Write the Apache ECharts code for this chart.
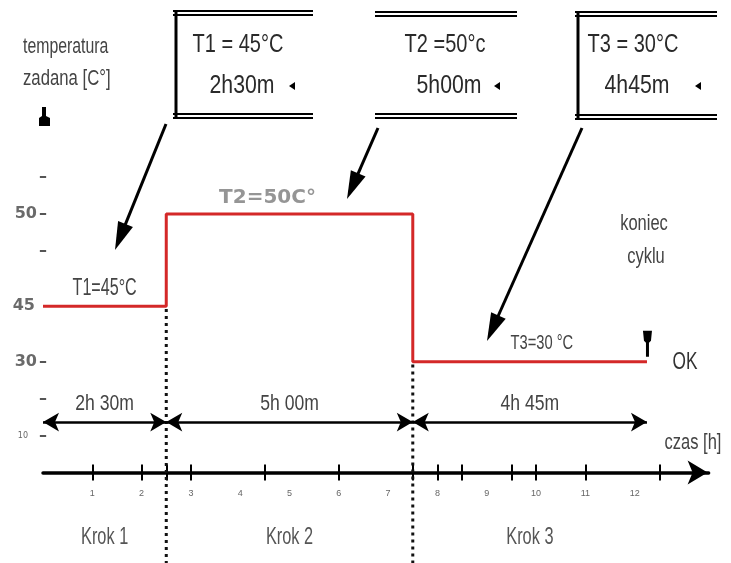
<!DOCTYPE html>
<html><head><meta charset="utf-8">
<script src="https://cdn.jsdelivr.net/npm/echarts@6/dist/echarts.min.js"></script>
<style>html,body{margin:0;padding:0;background:#fff}#c{width:731px;height:563px}</style>
</head><body><div id="c"></div>
<script>
// ---- data ----
const stepNames = ['Krok 1', 'Krok 2', 'Krok 3'];
const stepDurations = [2.5, 5, 4.75];          // hours
const stepTemps = [45, 50, 30];                // °C
const stepDurationLabels = ['2h 30m', '5h 00m', '4h 45m'];
const stepTempLabels = ['T1=45°C', 'T2=50C°', 'T3=30 °C'];
const boxTempLabels = ['T1 = 45°C', 'T2 =50°c', 'T3 = 30°C'];
const boxTimeLabels = ['2h30m', '5h00m', '4h45m'];
const hourLabels = [1, 2, 3, 4, 5, 6, 7, 8, 9, 10, 11, 12];
const hourTicks = [1, 2, 2.5, 3, 4.5, 6, 7.5, 8, 8.5, 9.5, 10, 11, 12.5];
// schematic (non-linear) temperature axis: tick label -> axis level
const yTickLabels = ['10', '', '30', '45', '', '50', ''];
const yTickLevels = [2, 4, 6, 9, 12, 14, 16];

const SF = 'Liberation Sans';
const levelOf = t => yTickLevels[yTickLabels.indexOf(String(t))];

const starts = [];
let acc = 0;
stepDurations.forEach(d => { starts.push(acc); acc += d; });
const ends = starts.map((s, i) => s + stepDurations[i]);
const mids = starts.map((s, i) => s + stepDurations[i] / 2);

const redData = [];
stepTemps.forEach((t, i) => { redData.push([starts[i], levelOf(t)]); redData.push([ends[i], levelOf(t)]); });

const ARROW_LEVEL = 2.73, KROK_LEVEL = -3.5, Y_BOTTOM = -5;

const durLines = stepNames.map((n, i) => [
  { coord: [starts[i], ARROW_LEVEL], name: stepDurationLabels[i] },
  { coord: [ends[i], ARROW_LEVEL] }
]);
const dotSeries = [];
for (let i = 0; i < stepTemps.length - 1; i++) {
  const low = Math.min(levelOf(stepTemps[i]), levelOf(stepTemps[i + 1]));
  dotSeries.push({
    type: 'line', symbol: 'none', clip: false, silent: true, z: 3,
    data: [[ends[i], low - 0.15], [ends[i], Y_BOTTOM]],
    lineStyle: { color: '#111', width: 3, type: [3, 4] }
  });
}

const chart = echarts.init(document.getElementById('c'), null, { renderer: 'canvas' });
chart.setOption({
  animation: false,
  backgroundColor: '#fff',
  grid: { left: 43, right: 22.4, top: 177, bottom: 90.5, outerBoundsMode: 'none', containLabel: false },
  xAxis: [{
    type: 'value', min: 0, max: 13.5, position: 'bottom',
    axisLine: { show: true, onZero: false, lineStyle: { color: '#000', width: 3.5 }, symbol: ['none', 'arrow'], symbolSize: [18, 20], symbolOffset: [0, -1] },
    axisTick: { show: true, customValues: hourTicks, length: 8, lineStyle: { color: '#000', width: 2 } },
    axisLabel: { show: true, customValues: hourLabels, margin: 17, fontSize: 9, color: '#666', fontFamily: SF, hideOverlap: false },
    splitLine: { show: false }
  }, {
    type: 'value', min: 0, max: 13.5, position: 'bottom',
    axisLine: { show: false, onZero: false },
    axisTick: { show: true, inside: true, customValues: hourTicks, length: 8, lineStyle: { color: '#000', width: 2 } },
    axisLabel: { show: false }, splitLine: { show: false }
  }],
  yAxis: {
    type: 'value', min: 0, max: 16,
    axisLine: { show: false }, axisTick: { show: false }, splitLine: { show: false },
    axisLabel: {
      customValues: yTickLevels, align: 'right', margin: -4, hideOverlap: false,
      formatter: v => {
        const t = yTickLabels[yTickLevels.indexOf(v)];
        if (t === '45') return '{n|45}{g| }';
        if (t === '10') return '{s|10}{g2| }{d|–}';
        if (t === '') return '{d|–}';
        return '{n|' + t + '}{d|–}';
      },
      rich: {
        n: { fontSize: 16, fontFamily: 'DejaVu Sans', fontWeight: 'bold', color: '#6a6a6a' },
        s: { fontSize: 8, fontFamily: 'DejaVu Sans', color: '#666' },
        d: { fontSize: 16, fontFamily: 'DejaVu Sans', fontWeight: 'bold', color: '#555', padding: [0, 0, 0, 2] },
        g: { width: 12 },
        g2: { width: 9 }
      }
    }
  },
  series: [
    {
      type: 'line', data: redData, symbol: 'none', z: 5, clip: false,
      lineStyle: { color: '#d42828', width: 3 },
      markLine: {
        silent: true, symbol: ['arrow', 'arrow'], symbolSize: [14, 16],
        lineStyle: { color: '#000', width: 2.5, type: 'solid' },
        label: { show: false },
        data: durLines
      }
    },
    ...dotSeries,
    {
      type: 'scatter', symbolSize: 0, silent: true, clip: false,
      data: [{ value: [mids[1], levelOf(stepTemps[1])], name: stepTempLabels[1] }],
      label: { show: true, position: 'top', distance: 6, offset: [-22, 0], formatter: '{b}', fontSize: 20, fontFamily: 'DejaVu Sans', fontWeight: 'bold', color: '#7a7a7a' }
    }
  ]
});

// ---- annotations (text placed via the chart's own scales where tied to data) ----
const px = (x, y) => chart.convertToPixel({ xAxisIndex: 0, yAxisIndex: 0 }, [x, y]);
function arrow(x1, y1, x2, y2, hl, hw) {
  const dx = x2 - x1, dy = y2 - y1, L = Math.hypot(dx, dy), ux = dx / L, uy = dy / L, qx = -uy, qy = ux;
  const bx = x2 - ux * hl, by = y2 - uy * hl;
  return [
    { type: 'line', shape: { x1, y1, x2: bx + ux * 2, y2: by + uy * 2 }, style: { stroke: '#000', lineWidth: 3 } },
    { type: 'polygon', shape: { points: [[x2, y2], [bx + qx * hw, by + qy * hw], [bx - qx * hw, by - qy * hw]] }, style: { fill: '#000' } }
  ];
}
function hline(x1, x2, y, w) { return { type: 'line', shape: { x1, y1: y, x2, y2: y }, style: { stroke: '#000', lineWidth: w || 2 } }; }
function vline(x, y1, y2, w) { return { type: 'line', shape: { x1: x, y1, x2: x, y2 }, style: { stroke: '#000', lineWidth: w || 2 } }; }
function txt(t, x, y, size, color, align, sx) {
  return { type: 'text', x, y, scaleX: sx || 0.75, z: 10, style: { text: t, fontSize: size, fontFamily: SF, fill: color || '#444', align: align || 'center', verticalAlign: 'middle' } };
}
function tri(x, y) { return { type: 'polygon', shape: { points: [[x - 3, y], [x + 3, y - 4], [x + 3, y + 4]] }, style: { fill: '#000' } }; }

const boxes = [
  { x1: 173, x2: 313, yt: 11, yb: 114, left: true, cx: 238, tx: 292 },
  { x1: 375, x2: 517, yt: 12, yb: 114, left: false, cx: 445, tx: 497 },
  { x1: 575, x2: 717, yt: 12, yb: 115, left: true, cx: 633, tx: 698 }
];
const graphics = [];
boxes.forEach((b, i) => {
  graphics.push(hline(b.x1, b.x2, b.yt, 2), hline(b.x1, b.x2, b.yt + 4, 2));
  graphics.push(hline(b.x1, b.x2, b.yb, 2), hline(b.x1, b.x2, b.yb + 4, 2));
  if (b.left) graphics.push(vline(b.x1 + 3, b.yt, b.yb + 4, 3));
  graphics.push(txt(boxTempLabels[i], b.cx, 45, 25, '#2a2a2a', 'center', 0.8));
  graphics.push(txt(boxTimeLabels[i], b.cx + 4, 86, 25, '#2a2a2a', 'center', 0.85));
  graphics.push(tri(b.tx, 86));
});
graphics.push(...arrow(166, 124, 115, 250, 28, 8));
graphics.push(...arrow(378, 128, 347, 199, 28, 8));
graphics.push(...arrow(582, 128, 487, 341, 28, 8));
graphics.push(txt('temperatura', 23, 47, 22, '#444', 'left', 0.72));
graphics.push(txt('zadana [C°]', 23, 79, 22, '#444', 'left', 0.76));
graphics.push({ type: 'polygon', shape: { points: [[42, 107], [46, 107], [46, 116], [50, 118], [50, 126], [39, 126], [39, 118], [42, 116]] }, style: { fill: '#000' } });
graphics.push(txt('koniec', 644, 224, 22, '#444', 'center', 0.75));
graphics.push(txt('cyklu', 646, 257, 22, '#444', 'center', 0.75));
graphics.push(txt('OK', 685, 362, 24, '#333', 'center', 0.72));
graphics.push(txt('czas [h]', 693, 443, 22, '#444', 'center', 0.75));
// end-of-cycle marker at end of last step
const endP = px(ends[ends.length - 1], levelOf(stepTemps[stepTemps.length - 1]));
const ex = endP[0], ey = endP[1];
graphics.push({ type: 'polygon', shape: { points: [[ex - 4, ey - 31], [ex + 5, ey - 31], [ex + 4, ey - 21], [ex + 2, ey - 19], [ex + 2, ey - 5], [ex - 1, ey - 5], [ex - 1, ey - 19], [ex - 3, ey - 21]] }, style: { fill: '#000' } });
// step names, durations, temperature labels
stepNames.forEach((n, i) => {
  const pk = px(mids[i], KROK_LEVEL);
  graphics.push(txt(n, pk[0], pk[1], 24, '#555', 'center', 0.68));
  const pd = px(mids[i], ARROW_LEVEL);
  graphics.push(txt(stepDurationLabels[i], pd[0], pd[1] - 18, 22, '#444', 'center', 0.8));
});
[0, 2].forEach(i => {
  const pt = px(mids[i], levelOf(stepTemps[i]));
  const dx = i === 2 ? 12 : 0;
  graphics.push(txt(stepTempLabels[i], pt[0] + dx, pt[1] - 18, i === 2 ? 21 : 23, '#444', 'center', 0.7));
});
chart.setOption({ graphic: graphics });
</script></body></html>
